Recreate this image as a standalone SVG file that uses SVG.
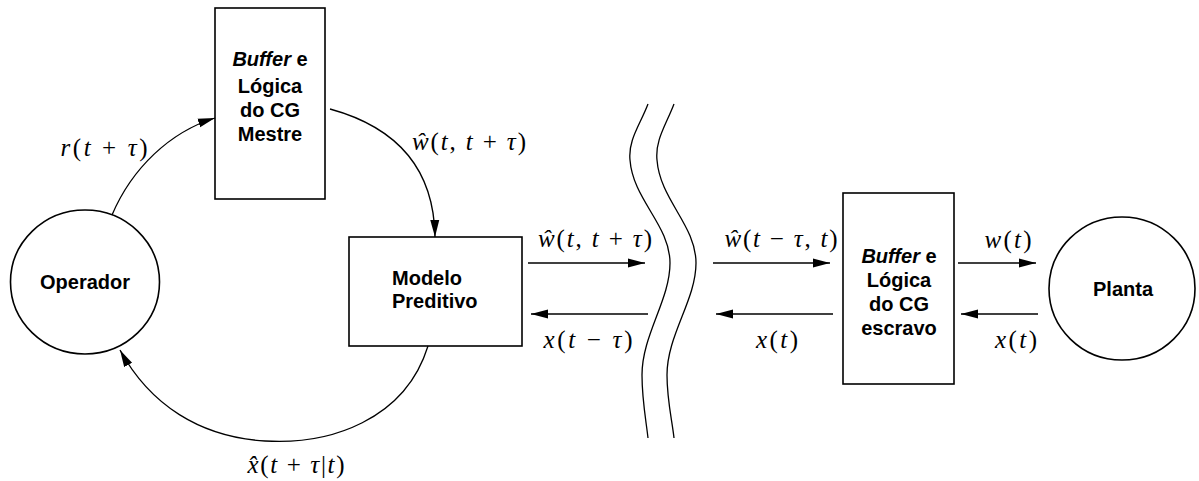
<svg xmlns="http://www.w3.org/2000/svg" width="1199" height="481" viewBox="0 0 1199 481">
<style>
.box{fill:#fff;stroke:#000;stroke-width:1.6}
.node{font-family:"Liberation Sans",Arial,sans-serif;font-weight:bold;font-size:20px;fill:#000}
.ln{fill:none;stroke:#000;stroke-width:1.3}
.ar{marker-end:url(#ah)}
.m{font-family:"Liberation Serif","Times New Roman",serif;font-size:25px;fill:#000}
.i{font-style:italic}
</style>
<defs>
<marker id="ah" markerUnits="userSpaceOnUse" markerWidth="18" markerHeight="10" refX="17" refY="5" orient="auto">
<path d="M0,0.5 L17,5 L0,9.5 Z" fill="#000"/>
</marker>
</defs>
<g id="operador">
<ellipse cx="85" cy="282" rx="74.5" ry="72" class="box" stroke-width="1.3"/>
<text x="85" y="289" text-anchor="middle" class="node">Operador</text>
</g>
<g id="buffer-mestre">
<rect x="215" y="8" width="110" height="191" class="box"/>
<text x="270" y="66" text-anchor="middle" class="node"><tspan font-style="italic">Buffer</tspan> e</text>
<text x="270" y="93" text-anchor="middle" class="node">Lógica</text>
<text x="270" y="117" text-anchor="middle" class="node">do CG</text>
<text x="270" y="141" text-anchor="middle" class="node">Mestre</text>
</g>
<g id="modelo">
<rect x="349" y="237" width="173" height="109" class="box"/>
<text x="392" y="285" class="node">Modelo</text>
<text x="392" y="308" class="node">Preditivo</text>
</g>
<g id="buffer-escravo">
<rect x="843" y="193" width="111" height="191" class="box"/>
<text x="899" y="263" text-anchor="middle" class="node"><tspan font-style="italic">Buffer</tspan> e</text>
<text x="899" y="287" text-anchor="middle" class="node">Lógica</text>
<text x="899" y="311" text-anchor="middle" class="node">do CG</text>
<text x="899" y="335" text-anchor="middle" class="node">escravo</text>
</g>
<g id="planta">
<ellipse cx="1122" cy="288.5" rx="73" ry="71.5" class="box" stroke-width="1.3"/>
<text x="1123" y="296" text-anchor="middle" class="node">Planta</text>
</g>
<g id="rede">
<path class="ln" d="M648,104 C640,125 628,140 630,160 C633,200 670,225 670,263 C670,300 642,335 642,375 C642,400 646,420 648,438"/>
<path class="ln" d="M674,104 C666,125 655,140 657,160 C660,200 696,225 696,263 C696,300 667,335 667,375 C667,400 672,420 674,438"/>
</g>
<g id="connectors">
<path class="ln ar" d="M112,215 C132,168 170,132 215,118"/>
<path class="ln ar" d="M330,109 C392,126 434,165 435,237"/>
<path class="ln ar" d="M428,346 C405,420 330,445 265,441 C200,437 150,405 120,350"/>
<line class="ln ar" x1="528" y1="263" x2="645" y2="263"/>
<line class="ln ar" x1="648" y1="314" x2="531" y2="314"/>
<line class="ln ar" x1="713" y1="263" x2="830" y2="263"/>
<line class="ln ar" x1="833" y1="314" x2="716" y2="314"/>
<line class="ln ar" x1="958" y1="263" x2="1036" y2="263"/>
<line class="ln ar" x1="1038" y1="314" x2="961" y2="314"/>
</g>
<g id="labels">
<text x="104" y="156" text-anchor="middle" class="m" textLength="87" lengthAdjust="spacing"><tspan class="i">r</tspan>(<tspan class="i">t</tspan> + <tspan class="i">τ</tspan>)</text>
<text x="469" y="150" text-anchor="middle" class="m" textLength="114" lengthAdjust="spacing"><tspan class="i">ŵ</tspan>(<tspan class="i">t</tspan>, <tspan class="i">t</tspan> + <tspan class="i">τ</tspan>)</text>
<text x="595" y="247" text-anchor="middle" class="m" textLength="114" lengthAdjust="spacing"><tspan class="i">ŵ</tspan>(<tspan class="i">t</tspan>, <tspan class="i">t</tspan> + <tspan class="i">τ</tspan>)</text>
<text x="588" y="348" text-anchor="middle" class="m" textLength="89" lengthAdjust="spacing"><tspan class="i">x</tspan>(<tspan class="i">t</tspan> − <tspan class="i">τ</tspan>)</text>
<text x="781" y="247" text-anchor="middle" class="m" textLength="113" lengthAdjust="spacing"><tspan class="i">ŵ</tspan>(<tspan class="i">t</tspan> − <tspan class="i">τ</tspan>, <tspan class="i">t</tspan>)</text>
<text x="777" y="348" text-anchor="middle" class="m" textLength="42" lengthAdjust="spacing"><tspan class="i">x</tspan>(<tspan class="i">t</tspan>)</text>
<text x="1008" y="248" text-anchor="middle" class="m" textLength="47" lengthAdjust="spacing"><tspan class="i">w</tspan>(<tspan class="i">t</tspan>)</text>
<text x="1016" y="348" text-anchor="middle" class="m" textLength="42" lengthAdjust="spacing"><tspan class="i">x</tspan>(<tspan class="i">t</tspan>)</text>
<text x="296" y="473" text-anchor="middle" class="m" textLength="97" lengthAdjust="spacing"><tspan class="i">x̂</tspan>(<tspan class="i">t</tspan> + <tspan class="i">τ</tspan>|<tspan class="i">t</tspan>)</text>
</g>
</svg>
